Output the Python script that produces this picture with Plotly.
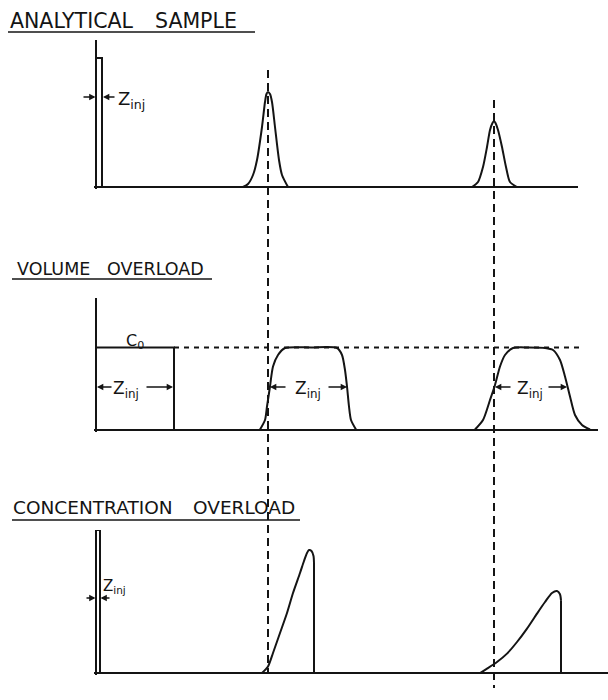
import plotly.graph_objects as go

# ---------------------------------------------------------------------------
# Data: z = distance along the column, c = concentration (arbitrary units)
# ---------------------------------------------------------------------------

# Analytical sample: narrow injection plug and two eluted gaussian bands
inj_a_width = 0.6
inj_a_height = 12.9
band_a1_z = [14.7, 15.2, 15.7, 16.1, 16.6, 16.9, 17.05, 17.2, 17.4, 17.6, 17.9, 18.3, 18.6, 19.2]
band_a1_c = [0.0, 0.3, 1.2, 2.7, 6.0, 8.5, 9.3, 9.5, 9.3, 8.5, 6.0, 2.7, 1.2, 0.0]
band_a2_z = [37.6, 38.2, 38.7, 39.1, 39.4, 39.65, 39.8, 39.95, 40.2, 40.6, 41.0, 41.4, 42.1]
band_a2_c = [0.0, 0.5, 2.0, 4.0, 5.7, 6.4, 6.6, 6.4, 5.7, 4.0, 2.0, 0.5, 0.0]

# Volume overload: wide plug at C0 and two flat-topped bands
inj_v_width = 7.8
c0_level = 8.2
c0_line_end = 48.7
band_v1_z = [16.4, 16.9, 17.1, 17.4, 17.7, 18.2, 18.9, 21.5, 24.1, 24.6, 24.9, 25.1, 25.3, 25.5, 26.0]
band_v1_c = [0.0, 0.95, 2.3, 4.3, 6.3, 7.45, 8.15, 8.2, 8.15, 7.45, 5.95, 4.3, 2.3, 0.95, 0.0]
band_v2_z = [37.9, 38.7, 39.4, 39.9, 40.4, 40.9, 41.7, 43.3, 44.9, 45.7, 46.4, 46.9, 47.4, 47.9, 48.6, 49.4]
band_v2_c = [0.0, 0.95, 2.95, 4.45, 6.3, 7.45, 8.15, 8.2, 8.15, 7.95, 6.95, 5.3, 3.3, 1.45, 0.45, 0.0]

# Concentration overload: narrow, tall plug and two triangular bands
inj_c_width = 0.4
inj_c_height = 14.3
band_c1_z = [16.6, 17.2, 17.7, 18.4, 19.1, 19.7, 20.4, 20.8, 21.1, 21.3, 21.55, 21.75, 21.8]
band_c1_c = [0.0, 0.65, 2.0, 4.0, 6.0, 8.0, 10.0, 11.2, 12.0, 12.3, 12.2, 11.7, 11.0]
band_c2_z = [38.4, 39.1, 40.1, 41.1, 42.1, 43.1, 44.1, 44.9, 45.6, 46.1, 46.4, 46.5]
band_c2_c = [0.0, 0.44, 1.1, 1.94, 3.1, 4.44, 5.94, 7.1, 8.0, 8.2, 7.87, 7.27]

# Retention positions of the analytical bands (vertical guides)
band_centres = [17.2, 39.8]

# Half-height edges of the volume-overloaded bands (Z_inj arrows)
band_v1_edges = [17.4, 25.1]
band_v2_edges = [39.9, 47.1]

title_words = [["ANALYTICAL", "SAMPLE"], ["VOLUME", "OVERLOAD"], ["CONCENTRATION", "OVERLOAD"]]

# ---------------------------------------------------------------------------
# Layout geometry (pixels)
# ---------------------------------------------------------------------------
W, H = 608, 700
AX_X = 96          # pixel position of the concentration axes
S = 10.0           # pixels per z / c unit
PAD = 0.2
panels = [
    dict(top=40, base=187, right=578),
    dict(top=298, base=429.5, right=598),
    dict(top=530, base=673, right=608),
]

INK = "#141414"
FONT = "DejaVu Sans"
LW = 2.0


def px(x):
    return x / W


def py(y):
    return 1 - y / H


fig = go.Figure()

layout_axes = {}
for i, p in enumerate(panels, start=1):
    sx = "" if i == 1 else str(i)
    layout_axes["xaxis" + sx] = dict(
        domain=[px(AX_X - PAD * S), px(p["right"])],
        range=[-PAD, (p["right"] - AX_X) / S],
        anchor="y" + sx,
        showgrid=False, showticklabels=False, ticks="", showline=False,
        zeroline=True, zerolinecolor=INK, zerolinewidth=LW,
        fixedrange=True,
    )
    layout_axes["yaxis" + sx] = dict(
        domain=[py(p["base"] + PAD * S), py(p["top"])],
        range=[-PAD, (p["base"] - p["top"]) / S],
        anchor="x" + sx,
        showgrid=False, showticklabels=False, ticks="", showline=False,
        zeroline=True, zerolinecolor=INK, zerolinewidth=LW,
        fixedrange=True,
    )


def ax_ids(panel):
    sx = "" if panel == 1 else str(panel)
    return "x" + sx, "y" + sx


def curve(z, c, panel, shape="spline", dash="solid", width=LW, smoothing=0.7):
    xa, ya = ax_ids(panel)
    line = dict(color=INK, width=width, dash=dash, shape=shape)
    if shape == "spline":
        line["smoothing"] = smoothing
    fig.add_trace(go.Scatter(x=z, y=c, mode="lines", line=line,
                             xaxis=xa, yaxis=ya,
                             hoverinfo="skip", showlegend=False))


# Panel 1 -------------------------------------------------------------------
curve([0, 0, inj_a_width, inj_a_width], [0, inj_a_height, inj_a_height, 0], 1, shape="linear")
curve(band_a1_z, band_a1_c, 1)
curve(band_a2_z, band_a2_c, 1)

# Panel 2 -------------------------------------------------------------------
curve([inj_v_width, c0_line_end], [c0_level, c0_level], 2, shape="linear",
      dash="5px,5px", width=1.8)
curve([0, 0, inj_v_width, inj_v_width], [0, c0_level, c0_level, 0], 2, shape="linear")
curve(band_v1_z, band_v1_c, 2)
curve(band_v2_z, band_v2_c, 2)

# Panel 3 -------------------------------------------------------------------
curve([0, 0, inj_c_width, inj_c_width], [0, inj_c_height, inj_c_height, 0], 3, shape="linear")
curve(band_c1_z, band_c1_c, 3)
curve([band_c1_z[-1], band_c1_z[-1]], [band_c1_c[-1], 0], 3, shape="linear")
curve(band_c2_z, band_c2_c, 3)
curve([band_c2_z[-1], band_c2_z[-1]], [band_c2_c[-1], 0], 3, shape="linear")

# Vertical guides through the band centres
shapes = []
guide_span = [(70, 673), (100, 688)]
for zc, (y_top, y_bot) in zip(band_centres, guide_span):
    shapes.append(dict(type="line", xref="x", yref="paper", x0=zc, x1=zc,
                       y0=py(y_top), y1=py(y_bot),
                       line=dict(color=INK, width=2, dash="8px,5px")))

# Title underlines
underlines = [(8, 255, 32), (12, 212, 279), (12, 300, 520)]
for x0, x1, y in underlines:
    shapes.append(dict(type="line", xref="paper", yref="paper",
                       x0=px(x0), x1=px(x1), y0=py(y), y1=py(y),
                       line=dict(color=INK, width=1.6)))

annotations = []


def arrow(panel, tail, head, c):
    """Dimension arrow drawn from tail to head, arrowhead at the head."""
    xa, ya = ax_ids(panel)
    annotations.append(dict(text="", xref=xa, yref=ya, axref=xa, ayref=ya,
                            x=head, y=c, ax=tail, ay=c, showarrow=True,
                            arrowhead=2, arrowsize=0.9, arrowwidth=1.4,
                            arrowcolor=INK, standoff=0, startstandoff=0))


# Dimension arrows for the plug / band widths
arrow(1, -1.4, -0.05, 9.0)
arrow(1, inj_a_width + 1.4, inj_a_width + 0.1, 9.0)
arrow(2, 1.7, 0.1, 4.25)
arrow(2, inj_v_width - 2.9, inj_v_width - 0.1, 4.25)
for lo, hi in (band_v1_edges, band_v2_edges):
    arrow(2, lo + 1.7, lo, 4.25)
    arrow(2, hi - 2.0, hi, 4.25)
arrow(3, -1.1, -0.05, 7.5)
arrow(3, inj_c_width + 1.1, inj_c_width + 0.05, 7.5)

# Section titles, one word at a time
title_layout = [
    dict(xs=[8, 153], y=21, size=20.5),
    dict(xs=[15, 105], y=269, size=17.5),
    dict(xs=[11, 191], y=507.5, size=18.5),
]
for words, tl in zip(title_words, title_layout):
    for w, x in zip(words, tl["xs"]):
        annotations.append(dict(text=w, xref="paper", yref="paper",
                                x=px(x), y=py(tl["y"]), xanchor="left", yanchor="middle",
                                showarrow=False,
                                font=dict(family=FONT, size=tl["size"], color=INK)))

# Axis names
z_label_pos = [(1, 46.1, -1.4), (2, 46.7, -2.1), (3, 46.9, -1.9)]
for panel, z, c in z_label_pos:
    xa, ya = ax_ids(panel)
    annotations.append(dict(text="Z", xref=xa, yref=ya, x=z, y=c,
                            xanchor="center", yanchor="middle", showarrow=False,
                            font=dict(family=FONT, size=16, color=INK)))


def label(text, panel, z, c, size):
    xa, ya = ax_ids(panel)
    annotations.append(dict(text=text, xref=xa, yref=ya, x=z, y=c,
                            xanchor="center", yanchor="middle", showarrow=False,
                            font=dict(family=FONT, size=size, color=INK)))


ZINJ = "Z<sub>inj</sub>"
label(ZINJ, 1, 3.5, 8.7, 18)
label("C<sub>0</sub>", 2, 3.9, 8.8, 16)
label(ZINJ, 2, 3.0, 4.0, 17)
for lo, hi in (band_v1_edges, band_v2_edges):
    label(ZINJ, 2, (lo + hi) / 2 - 0.1, 4.0, 17)
label(ZINJ, 3, 1.8, 8.7, 15)

fig.update_layout(
    width=W, height=H, autosize=False,
    margin=dict(l=0, r=0, t=0, b=0, pad=0),
    paper_bgcolor="white", plot_bgcolor="rgba(0,0,0,0)",
    showlegend=False,
    shapes=shapes, annotations=annotations,
    **layout_axes,
)

fig.write_html("out.html", config={"displayModeBar": False})
